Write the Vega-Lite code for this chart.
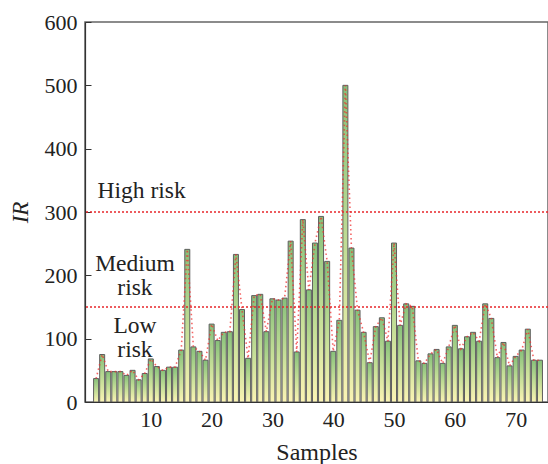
{
  "$schema": "https://vega.github.io/schema/vega-lite/v6.json",
  "width": 463,
  "height": 380,
  "autosize": {"type": "none"},
  "padding": {"left": 85, "top": 22, "right": 0, "bottom": 62},
  "config": {
    "font": "Liberation Serif",
    "view": {"stroke": "#666", "strokeWidth": 1.5},
    "axis": {"labelFont": "Liberation Serif", "titleFont": "Liberation Serif", "labelColor": "#222", "titleColor": "#222", "domainColor": "#333", "tickColor": "#333", "grid": false}
  },
  "datasets": {
    "bars": [
      {"s":1,"v":37},{"s":2,"v":75},{"s":3,"v":48},{"s":4,"v":48},{"s":5,"v":48},{"s":6,"v":42},{"s":7,"v":50},{"s":8,"v":35},{"s":9,"v":45},{"s":10,"v":68},
      {"s":11,"v":56},{"s":12,"v":50},{"s":13,"v":55},{"s":14,"v":55},{"s":15,"v":82},{"s":16,"v":241},{"s":17,"v":87},{"s":18,"v":80},{"s":19,"v":66},{"s":20,"v":123},
      {"s":21,"v":97},{"s":22,"v":110},{"s":23,"v":111},{"s":24,"v":233},{"s":25,"v":146},{"s":26,"v":69},{"s":27,"v":168},{"s":28,"v":170},{"s":29,"v":111},{"s":30,"v":163},
      {"s":31,"v":161},{"s":32,"v":164},{"s":33,"v":254},{"s":34,"v":79},{"s":35,"v":288},{"s":36,"v":177},{"s":37,"v":251},{"s":38,"v":293},{"s":39,"v":222},{"s":40,"v":80},
      {"s":41,"v":129},{"s":42,"v":500},{"s":43,"v":243},{"s":44,"v":145},{"s":45,"v":110},{"s":46,"v":62},{"s":47,"v":119},{"s":48,"v":133},{"s":49,"v":96},{"s":50,"v":251},
      {"s":51,"v":121},{"s":52,"v":155},{"s":53,"v":151},{"s":54,"v":65},{"s":55,"v":61},{"s":56,"v":76},{"s":57,"v":83},{"s":58,"v":61},{"s":59,"v":87},{"s":60,"v":121},
      {"s":61,"v":84},{"s":62,"v":103},{"s":63,"v":110},{"s":64,"v":96},{"s":65,"v":155},{"s":66,"v":132},{"s":67,"v":70},{"s":68,"v":94},{"s":69,"v":57},{"s":70,"v":72},
      {"s":71,"v":82},{"s":72,"v":115},{"s":73,"v":66},{"s":74,"v":66}
    ],
    "levels": [{"level": 150}, {"level": 300}],
    "labels": [
      {"s": 8.5, "v": 333, "t": ["High risk"]},
      {"s": 7.4, "v": 218, "t": ["Medium", "risk"]},
      {"s": 7.4, "v": 120, "t": ["Low", "risk"]}
    ]
  },
  "layer": [
    {
      "data": {"name": "bars"},
      "mark": {
        "type": "bar",
        "size": 5,
        "clip": true,
        "stroke": "#5e5e5e",
        "strokeWidth": 1,
        "color": {
          "gradient": "linear",
          "x1": 0, "y1": 1, "x2": 0, "y2": 0,
          "stops": [
            {"offset": 0, "color": "#fbf4b4"},
            {"offset": 0.45, "color": "#c6df98"},
            {"offset": 1, "color": "#86c07a"}
          ]
        }
      },
      "encoding": {
        "x": {
          "field": "s", "type": "quantitative",
          "scale": {"domain": [0, 74.5], "nice": false, "zero": false},
          "axis": {"values": [10, 20, 30, 40, 50, 60, 70], "title": "Samples", "labelFontSize": 22, "titleFontSize": 24, "titleFontWeight": "normal", "tickSize": -5, "labelPadding": 12, "titlePadding": 10, "domainWidth": 1.2}
        },
        "y": {
          "field": "v", "type": "quantitative",
          "scale": {"domain": [0, 600], "nice": false},
          "axis": {"values": [0, 100, 200, 300, 400, 500, 600], "title": "IR", "labelFontSize": 22, "titleFontSize": 23, "titleFontStyle": "italic", "titleFontWeight": "normal", "tickSize": -6, "labelPadding": 14, "titlePadding": 12, "domainWidth": 1.2}
        }
      }
    },
    {
      "data": {"name": "bars"},
      "mark": {"type": "line", "color": "#f03030", "strokeWidth": 1.6, "strokeDash": [1.5, 3], "opacity": 0.75, "clip": true},
      "encoding": {
        "x": {"field": "s", "type": "quantitative"},
        "y": {"field": "v", "type": "quantitative"}
      }
    },
    {
      "data": {"name": "levels"},
      "mark": {"type": "rule", "color": "#e8262a", "strokeWidth": 1.6, "strokeDash": [2, 2]},
      "encoding": {
        "y": {"field": "level", "type": "quantitative"}
      }
    },
    {
      "data": {"name": "labels"},
      "mark": {"type": "text", "font": "Liberation Serif", "fontSize": 23.5, "color": "#222", "align": "center", "baseline": "middle", "lineHeight": 24},
      "encoding": {
        "x": {"field": "s", "type": "quantitative"},
        "y": {"field": "v", "type": "quantitative"},
        "text": {"field": "t"}
      }
    }
  ]
}
